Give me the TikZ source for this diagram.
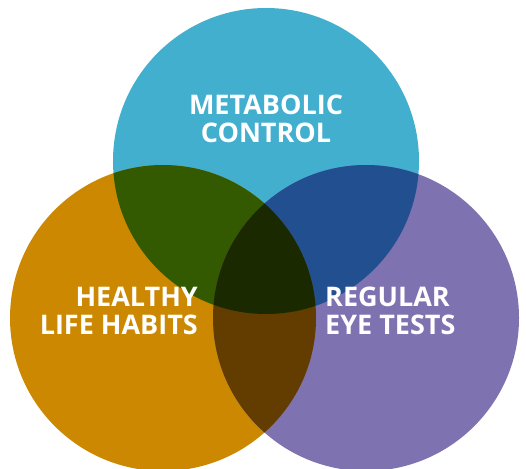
\documentclass[tikz,border=0pt]{standalone}
\usepackage{fontspec}
\setmainfont{Open Sans}
\definecolor{cTop}{HTML}{42AFCF}
\definecolor{cLeft}{HTML}{CB8800}
\definecolor{cRight}{HTML}{7E72B0}
\definecolor{cTopLeft}{HTML}{335A00}
\definecolor{cTopRight}{HTML}{214F90}
\definecolor{cLeftRight}{HTML}{633C00}
\definecolor{cAll}{HTML}{1B2900}
\tikzset{
  label text/.style={text=white, inner sep=0pt, font=\bfseries\fontsize{27}{27.5}\selectfont}
}
\begin{document}
\begin{tikzpicture}[x=1pt, y=-1pt]
  \useasboundingbox (0,0) rectangle (526,468);
  \def\rad{153}
  \coordinate (top)   at (266,161);
  \coordinate (left)  at (163,318);
  \coordinate (right) at (366,318);

  % base discs
  \fill[cTop]   (top)   circle[radius=\rad];
  \fill[cLeft]  (left)  circle[radius=\rad];
  \fill[cRight] (right) circle[radius=\rad];

  % pairwise overlaps
  \begin{scope}
    \clip (top) circle[radius=\rad];
    \fill[cTopLeft] (left) circle[radius=\rad];
  \end{scope}
  \begin{scope}
    \clip (top) circle[radius=\rad];
    \fill[cTopRight] (right) circle[radius=\rad];
  \end{scope}
  \begin{scope}
    \clip (left) circle[radius=\rad];
    \fill[cLeftRight] (right) circle[radius=\rad];
  \end{scope}
  % triple overlap
  \begin{scope}
    \clip (top) circle[radius=\rad];
    \clip (left) circle[radius=\rad];
    \fill[cAll] (right) circle[radius=\rad];
  \end{scope}

  % labels
  \node[label text, align=center, anchor=north] (metabolic) at (266,95)
    {METABOLIC\\CONTROL};
  \node[label text, align=right, anchor=north east] (habits) at (198,287)
    {HEALTHY\\LIFE HABITS};
  \node[label text, align=left, anchor=north west] (eyetests) at (325,287)
    {REGULAR\\EYE TESTS};
\end{tikzpicture}
\end{document}
